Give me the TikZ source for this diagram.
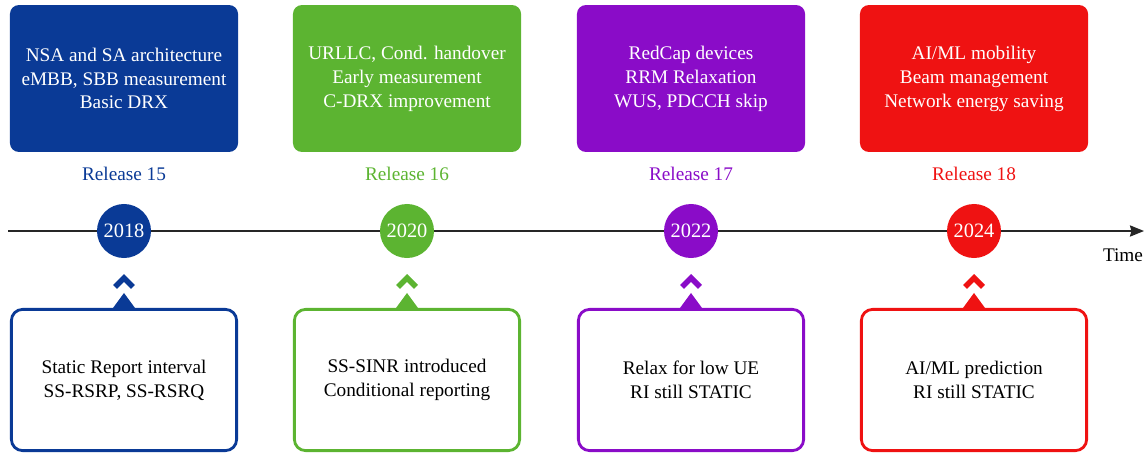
\documentclass[tikz,border=0pt]{standalone}
\usepackage{fontspec}
\setmainfont{Liberation Serif}
\newfontfamily\tlserif{Liberation Serif}
\usetikzlibrary{arrows.meta, positioning, calc}
\definecolor{relblue}{HTML}{0A3A96}
\definecolor{relgreen}{HTML}{5CB431}
\definecolor{relpurple}{HTML}{8A0CC8}
\definecolor{relred}{HTML}{EF1212}
\newcommand\tlfont{\tlserif\fontsize{13.7}{17}\selectfont}
\tikzset{
  featbox/.style={rectangle, rounded corners=0.22cm, minimum width=5.7cm,
    minimum height=3.67cm, align=center, text=white, font=\tlfont},
  notebox/.style={draw=#1, line width=2pt, fill=white, rounded corners=0.28cm,
    minimum width=5.63cm, minimum height=3.53cm, align=center, font=\tlfont},
  relname/.style={text=#1, font=\tlfont},
  yearball/.style={circle, fill=#1, text=white, minimum size=1.35cm,
    inner sep=0pt, font=\tlserif\fontsize{14.5}{17}\selectfont},
  chevron/.style={draw=#1, line width=4pt, line join=miter}
}

\begin{document}
\begin{tikzpicture}[x=0.025cm, y=-0.025cm]
  \useasboundingbox (0,0) rectangle (1146,455);

  % Time axis
  \coordinate (tstart) at (8,231);
  \coordinate (tend) at (1144,231);
  \draw[line width=0.9pt, black!85, -{Stealth[length=10pt, width=8pt, inset=1pt]}] (tstart) -- (tend);
  \node[font=\tlfont] (timelbl) at (1123,255) {Time};

  % Release 15
  \node[featbox, fill=relblue] (r15feat) at (124,78.5) {NSA and SA architecture\\eMBB, SBB measurement\\Basic DRX};
  \node[relname=relblue] (r15name) at (124,174) {Release 15};
  \node[yearball=relblue] (y2018) at (124,231) {2018};
  \node[notebox=relblue] (r15note) at (124,380) {Static Report interval\\SS-RSRP, SS-RSRQ};
  \fill[relblue] ($(r15note.north)+(-11,0)$) -- ++(11,-15) -- ++(11,15) -- cycle;
  \draw[chevron=relblue] ($(r15note.north)+(-9,-21)$) -- ++(9,-9) -- ++(9,9);

  % Release 16
  \node[featbox, fill=relgreen] (r16feat) at (407,78.5) {URLLC, Cond. handover\\Early measurement\\C-DRX improvement};
  \node[relname=relgreen] (r16name) at (407,174) {Release 16};
  \node[yearball=relgreen] (y2020) at (407,231) {2020};
  \node[notebox=relgreen] (r16note) at (407,380) {SS-SINR introduced\\Conditional reporting};
  \fill[relgreen] ($(r16note.north)+(-11,0)$) -- ++(11,-15) -- ++(11,15) -- cycle;
  \draw[chevron=relgreen] ($(r16note.north)+(-9,-21)$) -- ++(9,-9) -- ++(9,9);

  % Release 17
  \node[featbox, fill=relpurple] (r17feat) at (691,78.5) {RedCap devices\\RRM Relaxation\\WUS, PDCCH skip};
  \node[relname=relpurple] (r17name) at (691,174) {Release 17};
  \node[yearball=relpurple] (y2022) at (691,231) {2022};
  \node[notebox=relpurple] (r17note) at (691,380) {Relax for low UE\\RI still STATIC};
  \fill[relpurple] ($(r17note.north)+(-11,0)$) -- ++(11,-15) -- ++(11,15) -- cycle;
  \draw[chevron=relpurple] ($(r17note.north)+(-9,-21)$) -- ++(9,-9) -- ++(9,9);

  % Release 18
  \node[featbox, fill=relred] (r18feat) at (974,78.5) {AI/ML mobility\\Beam management\\Network energy saving};
  \node[relname=relred] (r18name) at (974,174) {Release 18};
  \node[yearball=relred] (y2024) at (974,231) {2024};
  \node[notebox=relred] (r18note) at (974,380) {AI/ML prediction\\RI still STATIC};
  \fill[relred] ($(r18note.north)+(-11,0)$) -- ++(11,-15) -- ++(11,15) -- cycle;
  \draw[chevron=relred] ($(r18note.north)+(-9,-21)$) -- ++(9,-9) -- ++(9,9);
\end{tikzpicture}
\end{document}
